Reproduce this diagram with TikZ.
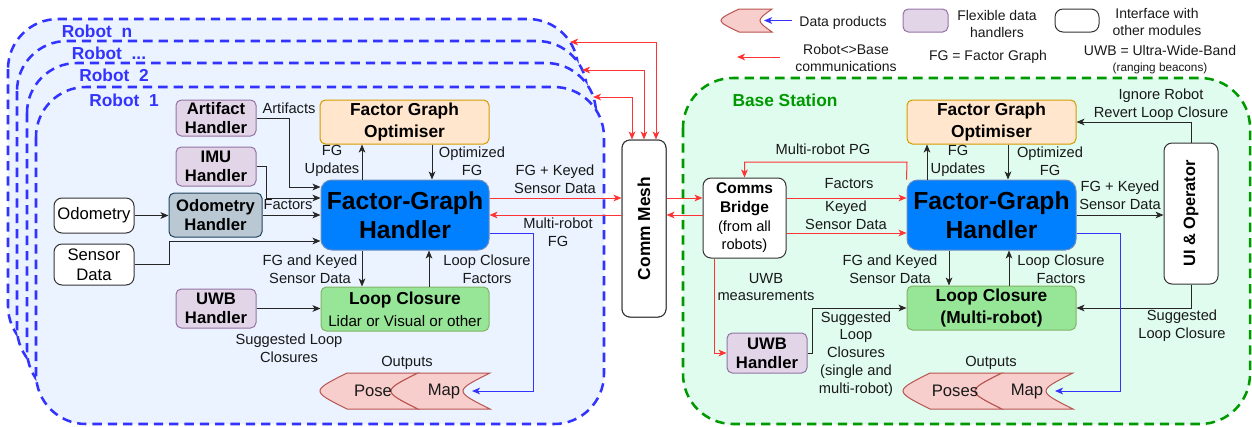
\documentclass[tikz,border=0pt]{standalone}
\usepackage{fontspec}
\setmainfont{Liberation Sans}
\usetikzlibrary{arrows.meta}
\definecolor{bluec}{RGB}{51,51,255}
\definecolor{robfill}{RGB}{234,243,255}
\definecolor{greenc}{RGB}{0,153,0}
\definecolor{basefill}{RGB}{224,252,239}
\definecolor{purpfill}{RGB}{225,213,231}
\definecolor{purpdraw}{RGB}{150,115,166}
\definecolor{odofill}{RGB}{186,200,211}
\definecolor{ododraw}{RGB}{35,68,93}
\definecolor{orfill}{RGB}{255,230,204}
\definecolor{ordraw}{RGB}{215,155,0}
\definecolor{fghfill}{RGB}{0,127,255}
\definecolor{fghdraw}{RGB}{108,142,191}
\definecolor{lcfill}{RGB}{151,229,151}
\definecolor{lcdraw}{RGB}{130,179,102}
\definecolor{dpfill}{RGB}{248,206,204}
\definecolor{dpdraw}{RGB}{184,84,80}
\definecolor{redc}{RGB}{255,51,51}
\def\pxu{0.75pt}
\begin{document}
\begin{tikzpicture}[x=0.75pt,y=-0.75pt,
 >={Stealth[length=6pt,width=5pt,inset=1.6pt]},
 box/.style={draw=black!80, line width=0.75pt, rounded corners=4pt, align=center, inner sep=0pt, font=\fontsize{12.5}{15}\selectfont},
 hdl/.style={box, fill=purpfill, draw=purpdraw, font=\bfseries\fontsize{12.5}{14.3}\selectfont},
 odostyle/.style={box, fill=odofill, draw=ododraw, font=\bfseries\fontsize{12.5}{14.3}\selectfont},
 iface/.style={box, fill=white, draw=black!80, rounded corners=6pt},
 fgo/.style={box, fill=orfill, draw=ordraw, font=\bfseries\fontsize{13}{16}\selectfont},
 fgh/.style={box, fill=fghfill, draw=fghdraw, rounded corners=8pt, font=\bfseries\fontsize{18.5}{22}\selectfont},
 lcbox/.style={box, fill=lcfill, draw=lcdraw},
 dprod/.style={fill=dpfill, draw=dpdraw, line width=0.75pt},
 lbl/.style={align=center, inner sep=0pt, text=black!90, font=\fontsize{11}{13.4}\selectfont},
 leg/.style={lbl, font=\fontsize{10.5}{12.3}\selectfont},
 rottxt/.style={rotate=90, inner sep=0pt, font=\bfseries\fontsize{13}{15}\selectfont},
 conn/.style={draw=black!85, line width=0.75pt, ->},
 rconn/.style={draw=redc, line width=0.75pt, ->},
 rboth/.style={draw=redc, line width=0.75pt, <->},
 bconn/.style={draw=bluec, line width=0.75pt, ->},
 panel/.style={line width=1.9pt, dash pattern=on 7pt off 4.5pt, rounded corners=37.5pt},
 rpanel/.style={panel, draw=bluec, fill=robfill},
 bpanel/.style={panel, draw=greenc, fill=basefill},
 plabel/.style={font=\bfseries\fontsize{13}{15}\selectfont, inner sep=0pt}
]
\useasboundingbox (0,0) rectangle (1252,426);

% ---------- panels ----------
\draw[rpanel] (8,19) rectangle (578,356);
\draw[rpanel] (17,41) rectangle (587,378);
\draw[rpanel] (27,63) rectangle (596,400);
\draw[rpanel] (36,87) rectangle (604,424);
\draw[bpanel] (683,78) rectangle (1250,424);

\node[plabel, text=bluec] (rn) at (97,31) {Robot~ n};
\node[plabel, text=bluec] (rdots) at (109,53) {Robot~ ...};
\node[plabel, text=bluec] (r2) at (114,75) {Robot~ 2};
\node[plabel, text=bluec] (r1) at (124,100) {Robot~ 1};
\node[plabel, text=greenc] (bs) at (785,100) {Base Station};

% ---------- legend ----------
\draw[dprod] (739,9) -- (772,9) .. controls (756,20.5) .. (772,32) -- (739,32) .. controls (715,20.5) .. (739,9) -- cycle;
\coordinate (legdpin) at (764,20.5);
\coordinate (legbs) at (792,20.5);
\draw[bconn] (legbs) -- (legdpin);
\node[leg] (legdp) at (843,23) {Data products};
\coordinate (legrs) at (780,57);
\coordinate (legre) at (737,57);
\draw[rconn] (legrs) -- (legre);
\node[leg] (legrb) at (846,58) {Robot<>Base\\communications};
\node[hdl, minimum width=45*\pxu, minimum height=23*\pxu] (legpb) at (925.5,20.5) {};
\node[leg] (legfl) at (997,24) {Flexible data\\handlers};
\node[leg] (legfg) at (988,57) {FG = Factor Graph};
\node[iface, minimum width=44*\pxu, minimum height=23*\pxu] (legwb) at (1077,20.5) {};
\node[leg] (legif) at (1157,22) {Interface with\\other modules};
\node[leg] (leguwb) at (1160,50) {UWB = Ultra-Wide-Band};
\node[lbl, font=\fontsize{8.8}{10}\selectfont] (legrng) at (1160,68) {(ranging beacons)};

% ---------- robot nodes ----------
\node[hdl, minimum width=80*\pxu, minimum height=36*\pxu] (art) at (216,118) {Artifact\\Handler};
\node[hdl, minimum width=80*\pxu, minimum height=39*\pxu] (imu) at (216,166.5) {IMU\\Handler};
\node[odostyle, minimum width=93*\pxu, minimum height=44*\pxu] (odoh) at (215.5,215) {Odometry\\Handler};
\node[iface, minimum width=80*\pxu, minimum height=35*\pxu] (odo) at (94,215.5) {Odometry};
\node[iface, minimum width=80*\pxu, minimum height=41*\pxu, font=\fontsize{12.5}{15}\selectfont] (sens) at (94,264.5) {Sensor\\Data};
\node[hdl, minimum width=80*\pxu, minimum height=39*\pxu] (uwbL) at (216,308.5) {UWB\\Handler};
\node[fgo, minimum width=169*\pxu, minimum height=44*\pxu] (fgoL) at (404.5,122) {Factor Graph\\Optimiser};
\node[fgh, minimum width=168*\pxu, minimum height=70*\pxu] (fghL) at (405,215) {Factor-Graph\\Handler};
\node[lcbox, minimum width=168*\pxu, minimum height=44*\pxu, font=\fontsize{11.4}{16.5}\selectfont] (lcL) at (405,309) {{\bfseries\fontsize{13}{16}\selectfont Loop Closure}\\Lidar or Visual or other};

\draw[dprod] (347,373) -- (418,373) .. controls (382,391) .. (418,409) -- (347,409) .. controls (311,391) .. (347,373) -- cycle;
\draw[dprod] (418,373) -- (490,373) .. controls (454,391) .. (490,409) -- (418,409) .. controls (382,391) .. (418,373) -- cycle;
\node[lbl, font=\fontsize{12.5}{15}\selectfont] (poseL) at (373,391) {Pose};
\node[lbl, font=\fontsize{12.5}{15}\selectfont] (mapL) at (444,391) {Map};
\coordinate (mapLin) at (472,391);
\node[lbl] (outL) at (407,363) {Outputs};

\draw[iface] (622,140) rectangle (666,317);
\node[iface, minimum width=44*\pxu, minimum height=177*\pxu] (mesh) at (644,228.5) {};
\node[rottxt] (meshT) at (mesh.center) {Comm Mesh};

% ---------- robot connectors ----------
\draw[conn] (art.east) -- (289,118) |- (fghL.west |- 0,187);
\draw[conn] (imu.east) -- (266,166.5) |- (fghL.west |- 0,198);
\draw[conn] (odoh.east) -- (odoh.east -| fghL.west);
\draw[conn] (odo.east) -- (odo.east -| odoh.west);
\draw[conn] (sens.east) -- (169,264.5) |- (fghL.west |- 0,241);
\draw[conn] (uwbL.east) -- (uwbL.east -| lcL.west);
\draw[conn] (fghL.north -| 362,0) -- (fgoL.south -| 362,0);
\draw[conn] (fgoL.south -| 432,0) -- (fghL.north -| 432,0);
\draw[conn] (fghL.south -| 362,0) -- (lcL.north -| 362,0);
\draw[conn] (lcL.north -| 429,0) -- (fghL.south -| 429,0);
\draw[rconn] (fghL.east |- 0,198) -- (mesh.west |- 0,198);
\draw[rconn] (mesh.west |- 0,215) -- (fghL.east |- 0,215);
\draw[bconn] (fghL.east |- 0,233) -- (533,233) |- (mapLin);

\coordinate (pn) at (570,42);
\coordinate (pdots) at (582,70);
\coordinate (ptwo) at (593,97);
\draw[rboth] (pn) -| (mesh.north -| 656,0);
\draw[rboth] (pdots) -| (mesh.north -| 644,0);
\draw[rboth] (ptwo) -| (mesh.north -| 632,0);

\node[lbl] (lArt) at (289,108) {Artifacts};
\node[lbl] (lFac) at (288,205) {Factors};
\node[lbl] (lUpL) at (332,161) {FG\\Updates};
\node[lbl] (lOptL) at (472,161) {Optimized\\FG};
\node[lbl] (lKeyL) at (555,179) {FG + Keyed\\Sensor Data};
\node[lbl] (lMrFG) at (558,232) {Multi-robot\\FG};
\node[lbl] (lFKL) at (310,269) {FG and Keyed\\Sensor Data};
\node[lbl] (lLCFL) at (487,269) {Loop Closure\\Factors};
\node[lbl] (lSugL) at (289,348) {Suggested Loop\\Closures};

% ---------- base nodes ----------
\node[iface, minimum width=83*\pxu, minimum height=80*\pxu, font=\fontsize{11}{14}\selectfont] (cb) at (744.5,218) {{\bfseries\fontsize{11.6}{14}\selectfont Comms}\\{\bfseries\fontsize{11.6}{14}\selectfont Bridge}\\(from all\\robots)};
\node[fgo, minimum width=169*\pxu, minimum height=44*\pxu] (fgoR) at (991.5,122) {Factor Graph\\Optimiser};
\node[fgh, minimum width=169*\pxu, minimum height=70*\pxu] (fghR) at (991.5,215) {Factor-Graph\\Handler};
\node[lcbox, minimum width=169*\pxu, minimum height=44*\pxu, font=\bfseries\fontsize{13}{16}\selectfont] (lcR) at (991.5,308) {Loop Closure\\(Multi-robot)};
\node[hdl, minimum width=80*\pxu, minimum height=40*\pxu] (uwbR) at (767,353) {UWB\\Handler};
\node[iface, minimum width=54*\pxu, minimum height=141*\pxu] (ui) at (1191,213.5) {};
\node[rottxt, font=\bfseries\fontsize{12.3}{15}\selectfont] (uiT) at (ui.center) {UI \& Operator};

\draw[dprod] (930,373) -- (1002,373) .. controls (966,391) .. (1002,409) -- (930,409) .. controls (894,391) .. (930,373) -- cycle;
\draw[dprod] (1002,373) -- (1073,373) .. controls (1037,391) .. (1073,409) -- (1002,409) .. controls (966,391) .. (1002,373) -- cycle;
\node[lbl, font=\fontsize{12.5}{15}\selectfont] (posesR) at (955,391) {Poses};
\node[lbl, font=\fontsize{12.5}{15}\selectfont] (mapR) at (1027,391) {Map};
\coordinate (mapRin) at (1055,391);
\node[lbl] (outR) at (991,363) {Outputs};

% ---------- base connectors ----------
\draw[rconn] (mesh.east |- 0,198) -- (cb.west |- 0,198);
\draw[rconn] (cb.west |- 0,215) -- (mesh.east |- 0,215);
\draw[rconn] (cb.east |- 0,198) -- (fghR.west |- 0,198);
\draw[rconn] (cb.east |- 0,233) -- (fghR.west |- 0,233);
\draw[rconn] (fghR.north west) -- (907,162) -| (cb.north);
\draw[rconn] (cb.south -| 714,0) |- (uwbR.west);
\draw[conn] (uwbR.east) -- (812,353) |- (lcR.west |- 0,308);
\draw[conn] (fghR.north -| 927,0) -- (fgoR.south -| 927,0);
\draw[conn] (fgoR.south -| 1008,0) -- (fghR.north -| 1008,0);
\draw[conn] (fghR.south -| 949,0) -- (lcR.north -| 949,0);
\draw[conn] (lcR.north -| 1009,0) -- (fghR.south -| 1009,0);
\draw[conn] (fghR.east |- 0,215) -- (ui.west |- 0,215);
\draw[conn] (ui.north) |- (fgoR.east |- 0,122);
\draw[conn] (ui.south) |- (lcR.east |- 0,308);
\draw[bconn] (fghR.east |- 0,233) -- (1120,233) |- (mapRin);

\node[lbl] (lMrPG) at (823,149) {Multi-robot PG};
\node[lbl] (lFacR) at (849,184) {Factors};
\node[lbl] (lKeyR) at (846,215.5) {Keyed\\Sensor Data};
\node[lbl] (lUpR) at (958,161) {FG\\Updates};
\node[lbl] (lOptR) at (1050,161) {Optimized\\FG};
\node[lbl] (lFGKR) at (1120,195) {FG + Keyed\\Sensor Data};
\node[lbl] (lIgn) at (1161,105) {Ignore Robot\\Revert Loop Closure};
\node[lbl] (lFKR) at (890,269) {FG and Keyed\\Sensor Data};
\node[lbl] (lLCFR) at (1061,269) {Loop Closure\\Factors};
\node[lbl] (lSugR) at (1182,326) {Suggested\\Loop Closure};
\node[lbl] (lUWBm) at (766,287) {UWB\\measurements};
\node[lbl] (lSugLC) at (856,354) {Suggested\\Loop\\Closures\\(single and\\multi-robot)};
\end{tikzpicture}
\end{document}
